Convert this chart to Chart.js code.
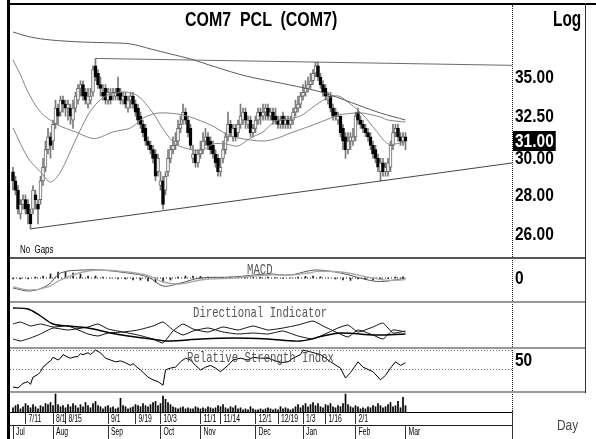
<!DOCTYPE html>
<html>
<head>
<meta charset="utf-8">
<title>COM7 PCL (COM7)</title>
<script src="https://cdn.jsdelivr.net/npm/chart.js@4.4.1/dist/chart.umd.min.js"></script>
<style>
  html, body { margin:0; padding:0; background:#fff; }
  #wrap { position:relative; width:596px; height:439px; overflow:hidden; background:#fff; }
  #wrap canvas { position:absolute; }
  .ln { position:absolute; }
  .t { position:absolute; white-space:pre; line-height:1; transform-origin:0 0; }
  .narrow { font-family:'Liberation Sans Narrow','Arial Narrow','Liberation Sans',Arial,sans-serif; color:#000; }
  .mono { font-family:'Liberation Mono','Courier New',monospace; color:#555; font-size:15px; transform:scaleX(0.71); }
</style>
</head>
<body>
<div id="wrap">
  <canvas id="cPrice" width="575" height="252" style="left:10px;top:5px;width:575px;height:252px"></canvas>
  <canvas id="cMacd" width="575" height="42" style="left:10px;top:259px;width:575px;height:42px"></canvas>
  <canvas id="cDmi" width="575" height="44" style="left:10px;top:303px;width:575px;height:44px"></canvas>
  <canvas id="cRsi" width="575" height="42" style="left:10px;top:349px;width:575px;height:42px"></canvas>
  <canvas id="cVol" width="575" height="46" style="left:10px;top:393px;width:575px;height:46px"></canvas>

  <!-- frame and panel separators -->
  <div class="ln" style="left:7px;top:0;width:3px;height:439px;background:#000"></div>
  <div class="ln" style="left:7px;top:3px;width:589px;height:2px;background:#000"></div>
  <div class="ln" style="left:585px;top:3px;width:1px;height:390px;background:#333"></div>
  <div class="ln" style="left:512px;top:5px;width:0;height:406px;border-left:1px dotted #222"></div>
  <div class="ln" style="left:512px;top:411px;width:1px;height:28px;background:#333"></div>
  <div class="ln" style="left:10px;top:257px;width:575px;height:2px;background:#555"></div>
  <div class="ln" style="left:10px;top:301px;width:575px;height:2px;background:#999"></div>
  <div class="ln" style="left:10px;top:347px;width:575px;height:2px;background:#999"></div>
  <div class="ln" style="left:10px;top:391px;width:575px;height:2px;background:#999"></div>

  <!-- texts -->
  <div class="t narrow" style="left:185px;top:8px;font-size:21px;font-weight:bold;transform:scaleX(0.76)">COM7  PCL  (COM7)</div>
  <div class="t narrow" style="left:553px;top:8px;font-size:22px;font-weight:bold;transform:scaleX(0.7)">Log</div>
  <div class="t narrow" style="left:20px;top:244px;font-size:11px;transform:scaleX(0.72)">No  Gaps</div>
  <div class="t mono" style="left:247px;top:263px">MACD</div>
  <div class="t mono" style="left:193px;top:306px">Directional Indicator</div>
  <div class="t mono" style="left:187px;top:351px">Relative Strength Index</div>
  <div class="t narrow" style="left:557px;top:418px;font-size:14px;color:#444;transform:scaleX(0.85)">Day</div>
</div>

<script>
const NARROW = "'Liberation Sans Narrow','Arial Narrow','Liberation Sans',Arial,sans-serif";
const X_MIN = -1.2, X_MAX = 199.6;   // trading-day index range of the x axis

// ---------- daily OHLC (THB), trading-day index 0..157 ----------
const opens = [
29.25,28.75,28.25,27.00,27.50,27.75,27.50,27.00,27.25,28.00,
27.50,27.75,28.75,29.50,30.50,31.25,31.00,32.00,33.00,32.75,
33.50,33.25,33.00,33.00,32.25,33.00,33.50,34.25,34.50,34.00,
33.25,33.50,34.00,35.75,35.25,34.50,34.00,34.25,33.50,33.75,
33.75,33.75,34.25,34.00,33.50,33.75,33.00,33.50,33.75,33.25,
33.00,32.50,32.00,31.75,31.00,30.75,30.50,30.25,29.25,28.50,
28.75,28.25,29.25,30.00,30.50,30.75,31.00,31.75,32.25,32.75,
32.25,31.75,30.00,30.25,29.75,30.25,30.50,31.00,31.25,31.00,
30.75,30.25,30.00,29.25,30.00,30.50,31.25,32.00,31.25,31.75,
31.50,32.00,32.25,32.75,32.00,32.25,31.50,31.75,32.25,32.75,
32.50,32.75,33.00,32.50,32.75,32.50,32.25,32.00,32.50,32.00,
32.25,32.00,32.25,32.75,33.00,33.25,33.75,34.00,34.25,34.50,
34.75,35.25,35.75,35.00,34.50,34.25,33.50,33.75,33.00,32.75,
32.25,32.50,31.75,31.25,30.50,31.00,31.00,31.25,32.75,32.25,
32.00,31.75,31.50,31.25,30.75,30.50,30.00,29.25,29.75,29.25,
29.25,29.50,30.75,31.50,31.75,31.25,31.00,31.25];
const highs = [
29.50,29.00,28.50,27.75,28.00,28.00,27.75,27.25,28.50,28.25,
27.75,29.00,30.00,31.00,31.75,31.50,32.25,33.50,33.25,33.75,
33.75,33.50,33.50,33.25,33.50,34.00,34.50,34.75,34.75,34.25,
34.25,34.25,35.75,36.25,35.50,35.00,34.50,34.50,34.25,34.25,
34.25,34.25,35.00,34.25,34.00,34.00,33.75,34.00,34.00,33.50,
33.25,32.75,32.25,32.00,31.25,31.00,30.75,30.50,30.25,29.25,
29.00,29.25,30.50,30.75,31.25,31.50,32.25,32.50,33.25,33.00,
32.50,32.00,30.75,30.50,30.50,31.00,31.50,31.75,31.50,31.25,
31.00,30.50,30.25,30.00,31.00,31.50,32.75,32.25,32.00,32.00,
32.25,33.25,33.00,33.00,32.50,32.50,32.00,32.50,33.00,33.00,
33.25,33.25,33.25,33.00,33.00,33.00,32.50,32.50,32.75,32.50,
32.50,32.50,33.00,33.50,33.75,34.00,34.50,34.75,35.00,35.25,
35.50,36.00,36.00,35.25,34.75,34.50,34.00,34.00,33.25,33.00,
32.75,32.50,32.00,31.50,31.50,31.50,31.75,32.75,33.00,32.50,
32.25,32.00,31.75,31.50,31.00,30.75,30.25,30.00,30.00,29.75,
30.00,31.00,32.00,32.00,32.00,31.50,31.50,31.50];
const lows = [
28.25,28.00,27.00,26.75,27.25,27.00,26.50,26.25,27.00,27.25,
26.50,27.50,28.50,29.25,30.25,30.00,30.50,31.75,32.00,32.50,
32.75,32.50,32.25,32.00,31.75,32.75,33.25,33.75,33.50,33.25,
33.00,33.25,33.75,34.75,34.25,33.75,33.50,33.25,33.25,33.25,
33.50,33.50,33.50,33.25,33.25,33.00,32.75,33.00,33.00,32.50,
32.00,31.75,31.25,30.75,30.50,30.25,29.75,28.75,29.00,28.25,
27.25,28.00,29.00,29.75,30.25,30.50,30.75,31.50,32.00,32.00,
31.25,30.50,29.75,29.50,29.50,30.00,30.25,30.75,30.50,30.25,
30.00,29.50,29.00,29.00,29.75,30.25,31.00,31.25,31.00,31.00,
31.25,31.75,32.00,31.75,31.75,31.25,31.25,31.50,32.00,32.00,
32.25,32.25,32.25,32.25,32.00,32.00,31.75,31.75,31.75,31.75,
31.75,31.75,32.00,32.50,32.75,33.00,33.50,33.75,34.00,34.25,
34.50,35.00,34.75,34.25,33.75,33.50,33.25,32.75,32.25,32.25,
32.00,31.25,30.50,30.00,30.25,30.50,30.75,31.00,32.00,31.75,
31.50,31.25,31.00,30.50,30.00,29.75,29.25,28.75,29.00,29.00,
29.00,29.25,30.50,31.25,31.00,30.75,30.75,30.50];
const closes = [
28.75,28.25,27.25,27.50,27.75,27.25,27.00,26.50,28.25,27.75,
27.25,28.75,29.50,30.50,31.25,30.75,32.00,33.00,32.50,33.50,
33.25,33.00,33.25,32.50,33.00,33.75,34.25,34.50,33.75,33.50,
33.75,33.75,35.50,35.00,34.50,34.25,33.75,33.50,34.00,33.50,
34.00,34.00,33.75,33.50,33.75,33.25,33.50,33.75,33.25,32.75,
32.25,32.00,31.50,31.00,30.75,30.50,30.00,29.00,30.00,28.75,
27.50,29.00,30.00,30.50,30.75,31.00,31.75,32.00,32.75,32.25,
31.50,30.75,30.25,29.75,30.25,30.50,31.00,31.25,30.75,30.50,
30.25,29.75,29.25,29.50,30.50,31.25,32.00,31.50,31.75,31.25,
32.00,32.50,32.75,32.25,32.25,31.50,31.75,32.25,32.75,32.50,
32.75,33.00,32.50,32.75,32.25,32.25,32.00,32.25,32.00,32.25,
32.00,32.25,32.75,33.00,33.25,33.75,34.00,34.25,34.50,34.75,
35.25,35.75,35.00,34.50,34.00,33.75,33.75,33.00,32.50,32.50,
32.50,31.50,31.00,30.50,31.00,31.25,31.25,32.50,32.25,32.00,
31.75,31.50,31.25,30.75,30.25,30.00,29.50,29.75,29.25,29.50,
29.75,30.75,31.50,31.75,31.25,31.00,31.25,31.00];
// daily volume (million shares)
const volumes = [
4,6,7,3,5,8,6,4,7,5, 3,6,5,8,7,9,6,17,7,5, 6,4,7,5,8,6,4,7,5,9,
6,4,8,10,6,5,3,5,6,4, 5,3,4,13,6,5,3,4,5,7, 6,5,8,6,5,7,9,10,6,8,
15,12,9,7,5,4,3,4,5,3, 4,3,3,5,4,3,4,3,5,4, 3,4,6,5,7,4,3,5,4,6,
3,4,2,3,2,5,3,2,2,3, 2,3,4,3,2,3,2,5,3,4, 3,2,3,5,7,4,6,8,5,7,
9,6,8,5,4,7,6,8,5,4, 6,5,8,17,7,5,4,6,5,3, 4,3,5,4,6,5,8,6,4,5,
7,9,5,6,10,4,14,6];

// ---------- moving averages read at sample days ----------
const ma20Idx = [0,6,11,15,19,25,30,34,38,42,45,50,56,60,65,72,76,80,85,90,95,100,105,110,115,120,125,130,135,140,145,150,155,157];
const ma20    = [31.78,30.02,29.24,28.69,29.24,31.06,32.57,33.38,33.83,33.96,34.02,33.77,32.69,31.72,30.83,30.48,30.48,30.83,30.83,30.71,31.18,31.54,32.20,32.32,32.51,33.06,33.57,33.77,33.25,32.57,31.66,30.83,30.89,30.95];
const ma50Idx = [0,3,6,11,18,25,31,34,40,47,52,58,68,79,86,90,100,106,110,120,127,130,137,140,147,150,157];
const ma50    = [36.15,35.13,34.02,32.75,31.96,31.54,31.18,31.18,31.54,31.78,32.38,32.69,32.57,31.96,31.36,31.18,31.00,31.18,31.42,31.96,32.38,32.57,32.69,32.69,32.44,32.26,32.14];
const ma200Idx = [0,7,15,27,40,47,55,63,71,81,93,107,120,127,138,147,157];
const ma200    = [38.11,37.75,37.54,37.40,37.33,37.26,36.91,36.56,36.21,35.67,35.07,34.60,34.15,33.83,33.19,32.69,32.26];
// trendlines (end points)
const resistIdx = [33,199.6], resistVal = [36.25,35.78];
const supportIdx = [7,199.6], supportVal = [26.25,29.74];

// ---------- MACD ----------
const macdIdx    = [0,7,14,19,28,35,46,54,60,67,75,88,102,111,118,122,131,144,150,157];
const macdLine   = [-0.5,-0.65,-0.35,0.25,0.4,0.4,0.25,0.05,-0.4,-0.25,0,0.05,0.2,0.15,0.35,0.4,0.25,-0.15,-0.15,0];
const signalLine = [-0.45,-0.6,-0.45,-0.1,0.3,0.4,0.3,0.12,-0.2,-0.3,-0.1,0,0.15,0.15,0.25,0.33,0.3,0,-0.12,-0.08];
const histIdx  = [0,3,6,9,12,15,18,21,24,27,30,33,36,39,42,45,48,51,54,57,60,63,66,69,72,75,78,81,84,87,90,93,96,99,102,105,108,111,114,117,120,123,126,129,132,135,138,141,144,147,150,153,156];
const macdHist = [-0.05,-0.05,-0.05,0.05,0.1,0.2,0.3,0.3,0.25,0.2,0.1,0.1,0.05,0,-0.05,-0.05,-0.1,-0.1,-0.15,-0.2,-0.2,-0.1,0.05,0.1,0.1,0.08,0.05,0,0.03,0.05,0.05,0.03,0.02,0.04,0.05,0.02,-0.02,0,0.05,0.08,0.1,0.06,0,-0.05,-0.1,-0.12,-0.05,-0.08,-0.1,-0.08,-0.03,0.05,0.06];
const zeroIdx = [0,157], zeroVal = [0,0];

// ---------- Directional indicator ----------
const adxIdx = [0,6,11,16,22,30,39,46,55,62,75,88,102,115,124,131,145,157];
const adx    = [39,38,31,23,21,19,14,11,8,6,8,9,8,6,11,14,12,13];
const diIdx   = [0,3,7,11,16,22,30,34,38,44,50,56,60,64,68,72,78,84,90,96,102,108,114,120,124,130,134,138,144,148,152,157];
const plusDI  = [8,6,9,13,19,17,20,23,18,15,12,8,4,16,23,18,15,20,17,21,17,19,22,26,21,14,10,17,12,8,17,15];
const minusDI = [23,25,21,23,20,21,13,11,14,15,17,21,25,17,12,16,19,15,13,14,13,16,11,8,12,19,22,15,20,24,14,16];

// ---------- RSI ----------
const rsiIdx = [0,2,4,6,7,8,10,11,12,14,15,16,18,19,20,22,23,24,26,27,28,30,31,33,35,37,39,41,43,45,47,48,50,51,54,56,58,60,61,63,65,67,69,71,73,75,77,79,81,83,86,88,91,94,96,99,102,104,107,110,112,115,116,119,123,127,131,133,135,138,140,144,147,149,151,153,155,157];
const rsi    = [20,19,24,26,23,31,34,37,42,47,49,53,50,52,56,53,52,53,54,57,56,58,56,61,58,52,50,48,49,47,44,46,41,39,31,28,26,22,39,41,42,48,52,50,44,39,42,44,41,37,44,50,52,50,53,52,52,50,47,48,52,56,61,59,56,48,41,30,36,48,42,37,28,33,41,48,44,47];
const rsiTicks = [40,50,60];

// ---------- axis ticks ----------
const priceTicks = [26,28,30,32.5,35];
const dayTickIdx = [5,16,21,38,49,59,75,83,97,106,116,125,137];
const dayTickLabels = ['7/11','8/1','8/15','9/1','9/19','10/3','11/1','11/14','12/1','12/19','1/3','1/16','2/1'];
const monthTickIdx = [0,16,38,59,75,97,116,137,157];
const monthTickLabels = ['Jul','Aug','Sep','Oct','Nov','Dec','Jan','Feb','Mar'];

// ---------- helpers ----------
const barIdx = closes.map((_, i) => i);
const pts = (ix, vals) => ix.map((x, k) => ({x: x, y: vals[k]}));
const AXIS_FONT = "bold 18px 'Liberation Sans',Arial,sans-serif";
const DATE_FONT = "11px 'Liberation Sans',Arial,sans-serif";

// draws a scale's tick labels in a condensed (horizontally squeezed) face
function tickLabels(id, scaleId, labelFn, cfg) {
  return {
    id: id,
    afterDraw(chart) {
      const s = chart.scales[scaleId], ctx = chart.ctx;
      ctx.save();
      ctx.font = cfg.font; ctx.fillStyle = cfg.color;
      ctx.textAlign = 'left'; ctx.textBaseline = 'middle';
      s.ticks.forEach((t, i) => {
        const txt = labelFn(t.value, i);
        if (!txt) return;
        const x = s.isHorizontal() ? s.getPixelForValue(t.value) + cfg.dx : s.left + cfg.dx;
        const y = s.isHorizontal() ? s.top + cfg.dy : s.getPixelForValue(t.value) + cfg.dy;
        ctx.save(); ctx.translate(x, y); ctx.scale(cfg.sx, 1); ctx.fillText(txt, 0, 0); ctx.restore();
      });
      ctx.restore();
    }
  };
}
const yLabelCfg = {font: AXIS_FONT, color: '#000', dx: 3, dy: 1, sx: 0.86};

function xHidden() {
  return {type: 'linear', min: X_MIN, max: X_MAX, offset: false, display: false, grid: {offset: false}};
}
function yRight(extra) {
  return Object.assign({
    position: 'right',
    grid: {display: false, drawOnChartArea: false, drawTicks: false},
    border: {display: false},
    ticks: {display: false},
    afterFit(s) { s.width = 73; s.paddingTop = 0; s.paddingBottom = 0; }
  }, extra);
}
function lineDs(data, color, width, extra) {
  return Object.assign({type: 'line', data: data, borderColor: color, borderWidth: width,
    pointRadius: 0, fill: false, tension: 0, order: 0}, extra || {});
}
function baseOpts(scales) {
  return {
    responsive: false, animation: false, devicePixelRatio: 1, events: [],
    layout: {padding: 0, autoPadding: false},
    plugins: {legend: {display: false}, tooltip: {enabled: false}, title: {display: false}},
    scales: scales
  };
}

const lastPricePlugin = {
  id: 'lastPrice',
  afterDraw(chart) {
    const s = chart.scales.y, ctx = chart.ctx;
    const v = closes[closes.length - 1];
    const y = Math.round(s.getPixelForValue(v));
    const txt = v.toFixed(2);
    ctx.save();
    ctx.font = AXIS_FONT;
    const w = ctx.measureText(txt).width * yLabelCfg.sx;
    ctx.fillStyle = '#000';
    ctx.fillRect(s.left + 1, y - 10, w + 4, 20);
    ctx.fillStyle = '#fff';
    ctx.textAlign = 'left';
    ctx.textBaseline = 'middle';
    ctx.translate(s.left + 3, y + 1);
    ctx.scale(yLabelCfg.sx, 1);
    ctx.fillText(txt, 0, 0);
    ctx.restore();
  }
};

// ---------- price panel ----------
new Chart(document.getElementById('cPrice'), {
  type: 'bar',
  data: {datasets: [
    {type: 'bar', data: barIdx.map(i => ({x: i, y: [lows[i], highs[i]]})),
     backgroundColor: '#7a7a7a', borderWidth: 0, barThickness: 1, grouped: false, order: 3},
    {type: 'bar', data: barIdx.map(i => ({x: i, y: [opens[i], closes[i]]})),
     backgroundColor: barIdx.map(i => closes[i] < opens[i] ? '#000' : '#fff'),
     borderColor: barIdx.map(i => closes[i] < opens[i] ? '#000' : '#666'),
     borderWidth: 1, borderSkipped: false, barThickness: 3, minBarLength: 1, grouped: false, order: 2},
    lineDs(pts(ma200Idx, ma200), '#5a5a5a', 1, {tension: 0.3}),
    lineDs(pts(ma50Idx, ma50), '#858585', 1, {tension: 0.3}),
    lineDs(pts(ma20Idx, ma20), '#858585', 1, {tension: 0.3}),
    lineDs(pts(resistIdx, resistVal), '#6a6a6a', 1),
    lineDs(pts(supportIdx, supportVal), '#444', 1)
  ]},
  options: baseOpts({
    x: xHidden(),
    y: yRight({
      type: 'logarithmic', min: 24.89, max: 40.11,
      afterBuildTicks(s) { s.ticks = priceTicks.map(v => ({value: v})); }
    })
  }),
  plugins: [tickLabels('priceLbl', 'y', v => Number(v).toFixed(2), yLabelCfg), lastPricePlugin]
});

// ---------- MACD panel ----------
new Chart(document.getElementById('cMacd'), {
  type: 'bar',
  data: {datasets: [
    {type: 'bar', data: pts(histIdx, macdHist), backgroundColor: '#222', barThickness: 1, grouped: false, order: 3},
    lineDs(pts(zeroIdx, zeroVal), '#222', 1, {borderDash: [1, 2], order: 2}),
    lineDs(pts(macdIdx, signalLine), '#a8a8a8', 1.3, {tension: 0.35}),
    lineDs(pts(macdIdx, macdLine), '#555', 1, {tension: 0.35})
  ]},
  options: baseOpts({
    x: xHidden(),
    y: yRight({
      type: 'linear', min: -1.15, max: 0.95,
      afterBuildTicks(s) { s.ticks = [{value: 0}]; }
    })
  }),
  plugins: [tickLabels('macdLbl', 'y', v => String(v), yLabelCfg)]
});

// ---------- Directional indicator panel ----------
new Chart(document.getElementById('cDmi'), {
  type: 'line',
  data: {datasets: [
    lineDs(pts(adxIdx, adx), '#000', 1.4, {tension: 0.35}),
    lineDs(pts(diIdx, plusDI), '#111', 1, {tension: 0.15}),
    lineDs(pts(diIdx, minusDI), '#111', 1, {tension: 0.15})
  ]},
  options: baseOpts({
    x: xHidden(),
    y: yRight({type: 'linear', min: 0, max: 44})
  })
});

// ---------- RSI panel ----------
new Chart(document.getElementById('cRsi'), {
  type: 'line',
  data: {datasets: [lineDs(pts(rsiIdx, rsi), '#000', 1)]},
  options: baseOpts({
    x: xHidden(),
    y: yRight({
      type: 'linear', min: 15.6, max: 62.2,
      afterBuildTicks(s) { s.ticks = rsiTicks.map(v => ({value: v})); },
      grid: {display: true, drawOnChartArea: true, drawTicks: false, lineWidth: 1,
             color: c => (c.tick && c.tick.value === 50) ? 'rgba(0,0,0,0)' : '#777'},
      border: {display: false, dash: [1, 2]}
    })
  }),
  plugins: [tickLabels('rsiLbl', 'y', v => (v === 50 ? '50' : ''), yLabelCfg)]
});

// ---------- Volume panel + date axes ----------
const dateCfgDay = {font: DATE_FONT, color: '#000', dx: 3, dy: 6.5, sx: 0.62};
const dateCfgMonth = {font: DATE_FONT, color: '#000', dx: 3, dy: 7, sx: 0.62};
new Chart(document.getElementById('cVol'), {
  type: 'bar',
  data: {datasets: [
    {type: 'bar', data: barIdx.map(i => ({x: i, y: volumes[i]})), backgroundColor: '#000',
     barThickness: 1, grouped: false}
  ]},
  options: baseOpts({
    x: {
      type: 'linear', axis: 'x', min: X_MIN, max: X_MAX, offset: false, position: 'bottom', weight: 0,
      afterBuildTicks(s) { s.ticks = dayTickIdx.map(v => ({value: v})); },
      afterFit(s) { s.height = 13; },
      grid: {display: true, offset: false, drawOnChartArea: false, drawTicks: true, tickLength: 12, tickColor: '#333', tickWidth: 1},
      border: {display: true, color: '#000', width: 1},
      ticks: {display: false, autoSkip: false, maxRotation: 0, minRotation: 0}
    },
    x2: {
      type: 'linear', axis: 'x', min: X_MIN, max: X_MAX, offset: false, position: 'bottom', weight: 1,
      afterBuildTicks(s) { s.ticks = monthTickIdx.map(v => ({value: v})); },
      afterFit(s) { s.height = 14; },
      grid: {display: true, offset: false, drawOnChartArea: false, drawTicks: true, tickLength: 14, tickColor: '#333', tickWidth: 1},
      border: {display: true, color: '#222', width: 1},
      ticks: {display: false, autoSkip: false, maxRotation: 0, minRotation: 0}
    },
    y: yRight({type: 'linear', min: 0, max: 18})
  }),
  plugins: [
    tickLabels('dayLbl', 'x', (v, i) => dayTickLabels[i], dateCfgDay),
    tickLabels('monthLbl', 'x2', (v, i) => monthTickLabels[i], dateCfgMonth)
  ]
});
</script>
</body>
</html>
